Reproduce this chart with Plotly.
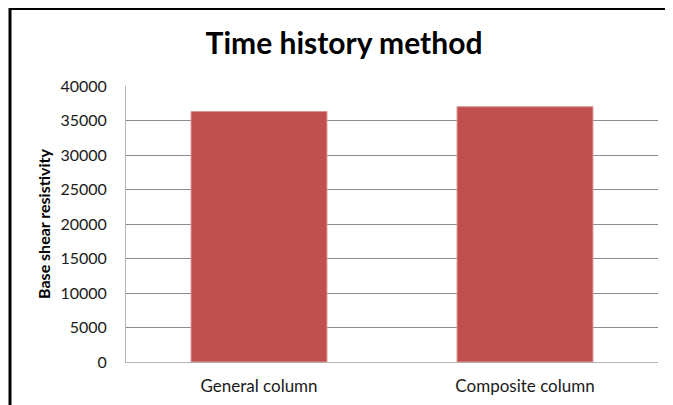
import plotly.graph_objects as go

categories = ["General column", "Composite column"]
values = [36300, 37000]
tick_vals = [0, 5000, 10000, 15000, 20000, 25000, 30000, 35000, 40000]
tick_text = ["0", "5000", "10000", "15000", "20000", "25000", "30000", "35000", "40000"]

# page body adds an 8px margin, so the figure is sized for that
W, H = 665, 397
L, R, T, B = 118, 15, 78, 43
pw, ph = W - L - R, H - T - B

fig = go.Figure()
fig.add_trace(go.Bar(
    x=categories, y=values,
    marker=dict(color="#C0504D", line=dict(color="#D99694", width=1)),
    width=0.511,
))

def px(x):
    return (x - L) / pw

def py(y):
    return (H - B - y) / ph

fig.update_layout(
    width=W, height=H,
    margin=dict(l=L, r=R, t=T, b=B, autoexpand=False),
    paper_bgcolor="white", plot_bgcolor="white",
    showlegend=False,
    font=dict(family="Lato, Open Sans, sans-serif", size=16, color="#1a1a1a"),
    title=dict(text="<b>Time history method</b>", x=336 / W, xref="container", xanchor="center",
               y=1 - 35.5 / H, yanchor="middle",
               font=dict(family="Lato, Open Sans, sans-serif", size=30, color="#000000")),
    xaxis=dict(showgrid=False, showline=True, linecolor="#B3B3B3", linewidth=1,
               ticks="", tickfont=dict(size=17), ticklabelstandoff=9),
    yaxis=dict(range=[0, 40000], tickvals=tick_vals, ticktext=tick_text,
               showgrid=True, gridcolor="#8C8C8C", gridwidth=1,
               showline=True, linecolor="#B3B3B3", linewidth=1,
               ticks="", zeroline=False, ticklabelstandoff=15,
               tickfont=dict(size=16),
               title=dict(text="<b>Base shear resistivity</b>", font=dict(size=16, color="#000000"),
                          standoff=5)),
    shapes=[dict(type="rect", xref="paper", yref="paper",
                 x0=px(2), x1=px(W + 10), y0=py(H + 10), y1=py(0.5),
                 line=dict(color="black", width=3), fillcolor="rgba(0,0,0,0)", layer="above")],
)

fig.write_html("out.html")
